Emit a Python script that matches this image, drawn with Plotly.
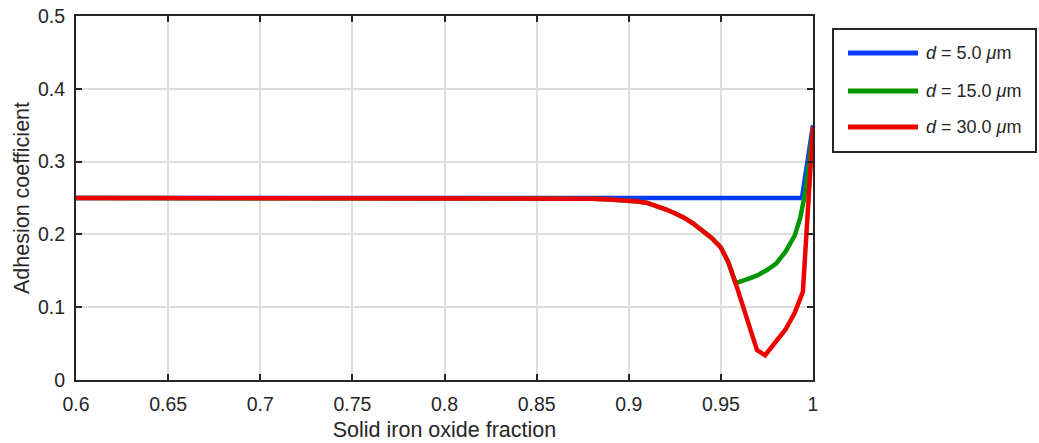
import plotly.graph_objects as go

# ---- data ----
x_blue = [0.60, 0.70, 0.80, 0.90, 0.95, 0.994, 1.000]
y_blue = [0.25, 0.25, 0.25, 0.25, 0.25, 0.250, 0.350]

x_green = [0.60, 0.80, 0.85, 0.86, 0.87, 0.88, 0.89, 0.90, 0.905, 0.91, 0.915, 0.92, 0.925, 0.93, 0.935, 0.94, 0.945, 0.95, 0.954, 0.958,
           0.962, 0.966, 0.970, 0.975, 0.980, 0.985, 0.990, 0.993, 0.996, 0.998, 1.000]
y_green = [0.25, 0.25, 0.25, 0.2498, 0.2495, 0.2490, 0.2480, 0.2465, 0.2452, 0.2432, 0.2395, 0.2345, 0.229, 0.223, 0.215, 0.205, 0.195, 0.182, 0.162, 0.133,
           0.136, 0.140, 0.144, 0.151, 0.160, 0.176, 0.198, 0.222, 0.260, 0.300, 0.345]

x_red = [0.60, 0.80, 0.85, 0.86, 0.87, 0.88, 0.89, 0.90, 0.905, 0.91, 0.915, 0.92, 0.925, 0.93, 0.935, 0.94, 0.945, 0.95, 0.954, 0.958,
         0.962, 0.966, 0.9696, 0.974, 0.980, 0.985, 0.990, 0.9945, 1.000]
y_red = [0.25, 0.25, 0.25, 0.2498, 0.2495, 0.2490, 0.2480, 0.2465, 0.2452, 0.2432, 0.2395, 0.2345, 0.229, 0.223, 0.215, 0.205, 0.195, 0.182, 0.162, 0.133,
         0.102, 0.068, 0.041, 0.034, 0.052, 0.069, 0.092, 0.121, 0.348]

series_names = ["<i>d</i> = 5.0 <i>\u03bc</i>m", "<i>d</i> = 15.0 <i>\u03bc</i>m", "<i>d</i> = 30.0 <i>\u03bc</i>m"]
series_colors = ["#0a3cff", "#009600", "#ee0000"]

x_ticks = [0.6, 0.65, 0.7, 0.75, 0.8, 0.85, 0.9, 0.95, 1.0]
x_ticktext = ["0.6", "0.65", "0.7", "0.75", "0.8", "0.85", "0.9", "0.95", "1"]
y_ticks = [0, 0.1, 0.2, 0.3, 0.4, 0.5]
y_ticktext = ["0", "0.1", "0.2", "0.3", "0.4", "0.5"]

# ---- layout geometry (pixels) ----
W, H = 1039, 443
L, R, T, B = 76, 813, 16, 380

def px_x(p):
    return (p - L) / (R - L)

def px_y(p):
    return (B - p) / (B - T)

TXT = "#262626"
FONT = "Liberation Sans, Arial, sans-serif"

fig = go.Figure()
for xs, ys, name, col in zip([x_blue, x_green, x_red], [y_blue, y_green, y_red], series_names, series_colors):
    fig.add_trace(go.Scatter(x=xs, y=ys, mode="lines", name=name,
                             line=dict(color=col, width=4.5), showlegend=False))

axis_common = dict(showline=True, linecolor=TXT, linewidth=2, mirror="ticks",
                   ticks="inside", ticklen=6, tickwidth=2, tickcolor=TXT,
                   showgrid=True, gridcolor="#dedede", gridwidth=1.5, zeroline=False,
                   automargin=False,
                   tickfont=dict(family=FONT, size=19.5, color=TXT))

fig.update_xaxes(range=[0.6, 1.0], tickvals=x_ticks, ticktext=x_ticktext, ticklabelstandoff=6,
                 title=dict(text="Solid iron oxide fraction", font=dict(family=FONT, size=21.5, color=TXT), standoff=8),
                 **axis_common)
fig.update_yaxes(range=[0, 0.5], tickvals=y_ticks, ticktext=y_ticktext, ticklabelstandoff=5,
                 title=dict(text="Adhesion coefficient", font=dict(family=FONT, size=21.5, color=TXT), standoff=2),
                 **axis_common)

# ---- legend (drawn manually to match the reference style) ----
shapes = [dict(type="rect", xref="paper", yref="paper",
               x0=px_x(833), x1=px_x(1036), y0=px_y(152), y1=px_y(29),
               line=dict(color=TXT, width=2), fillcolor="white", layer="above")]
annotations = []
leg_y = [53, 91, 127]
for ly, name, col in zip(leg_y, series_names, series_colors):
    shapes.append(dict(type="line", xref="paper", yref="paper",
                       x0=px_x(848), x1=px_x(918), y0=px_y(ly), y1=px_y(ly),
                       line=dict(color=col, width=5), layer="above"))
    annotations.append(dict(xref="paper", yref="paper", x=px_x(924), y=px_y(ly),
                            text=name, showarrow=False, xanchor="left", yanchor="middle",
                            font=dict(family=FONT, size=18, color=TXT)))

fig.update_layout(width=W, height=H,
                  margin=dict(l=L, r=W - R, t=T, b=H - B),
                  plot_bgcolor="white", paper_bgcolor="white",
                  shapes=shapes, annotations=annotations, showlegend=False)

fig.write_html("out.html")
